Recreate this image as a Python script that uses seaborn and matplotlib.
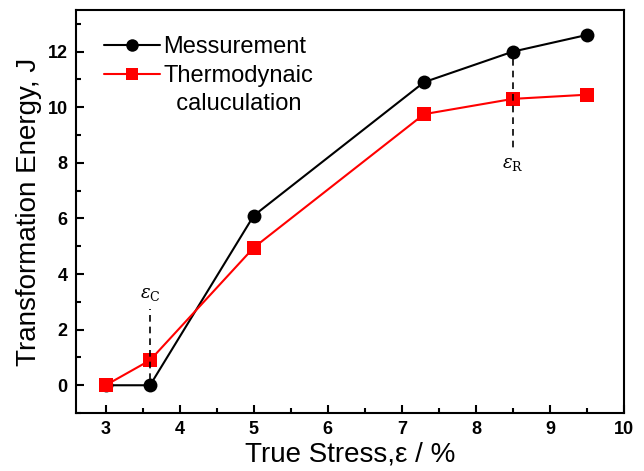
import matplotlib
matplotlib.use("Agg")
import matplotlib.pyplot as plt
from matplotlib.ticker import MultipleLocator
from matplotlib.lines import Line2D
import seaborn as sns
import pandas as pd

strain = [3.0, 3.6, 5.0, 7.3, 8.5, 9.5]
measured = [0.0, 0.0, 6.1, 10.9, 12.0, 12.6]
thermo = [0.0, 0.9, 4.95, 9.75, 10.3, 10.45]
series_names = ["Messurement", "Thermodynaic"]
label_continuation = "  caluculation"

sns.set_theme(style="ticks")
plt.rcParams["font.family"] = ["Liberation Sans", "DejaVu Sans"]
plt.rcParams["mathtext.fontset"] = "dejavuserif"
plt.rcParams["text.color"] = "black"
plt.rcParams["axes.labelcolor"] = "black"
plt.rcParams["xtick.color"] = "black"
plt.rcParams["ytick.color"] = "black"

df = pd.DataFrame({
    "strain": strain * 2,
    "energy": measured + thermo,
    "series": [series_names[0]] * len(strain) + [series_names[1]] * len(strain),
})

fig = plt.figure(figsize=(6.44, 4.71), dpi=100)
ax = fig.add_axes([0.118, 0.123, 0.851, 0.856])

sns.lineplot(data=df, x="strain", y="energy", hue="series", style="series",
             markers={series_names[0]: "o", series_names[1]: "s"}, dashes=False,
             palette={series_names[0]: "black", series_names[1]: "red"},
             markersize=10, markeredgewidth=0, linewidth=1.5, ax=ax, legend=True)

# critical strain markers
ax.plot([3.6, 3.6], [0.2, 2.75], ls=(0, (4, 3)), color="black", lw=1.2)
ax.text(3.6, 2.95, r"$\varepsilon_{\rm C}$", ha="center", va="bottom", fontsize=13)
ax.plot([8.5, 8.5], [11.75, 8.5], ls=(0, (4, 3)), color="black", lw=1.2)
ax.text(8.5, 8.25, r"$\varepsilon_{\rm R}$", ha="center", va="top", fontsize=13)

ax.set_xlim(2.6, 10)
ax.set_ylim(-1, 13.5)
ax.xaxis.set_major_locator(MultipleLocator(1))
ax.xaxis.set_minor_locator(MultipleLocator(0.5))
ax.yaxis.set_major_locator(MultipleLocator(2))
ax.yaxis.set_minor_locator(MultipleLocator(1))
ax.tick_params(which="both", direction="in", top=False, right=False, width=1.5)
ax.tick_params(which="major", length=6, labelsize=13, pad=6)
ax.tick_params(which="minor", length=3.5)
for lbl in ax.get_xticklabels() + ax.get_yticklabels():
    lbl.set_fontweight("bold")

ax.set_xlabel("True Stress,\u03b5 / %", fontsize=20, labelpad=2)
ax.set_ylabel("Transformation Energy, J", fontsize=20, labelpad=4)

# legend: second label wraps onto a row with no handle
handles, labels = ax.get_legend_handles_labels()
blank = Line2D([], [], linestyle="none", marker=None)
leg = ax.legend(handles + [blank], labels + [label_continuation],
                loc="upper left", bbox_to_anchor=(0.033, 0.958), frameon=False,
                fontsize=17, handlelength=2.4, handletextpad=0.12,
                labelspacing=0.28, borderaxespad=0.0)
for h in leg.legend_handles:
    h.set_markersize(9)

# closed box frame
for s in ax.spines.values():
    s.set_visible(True)
    s.set_linewidth(1.5)
    s.set_color("black")

fig.savefig("out.png", dpi=100)
